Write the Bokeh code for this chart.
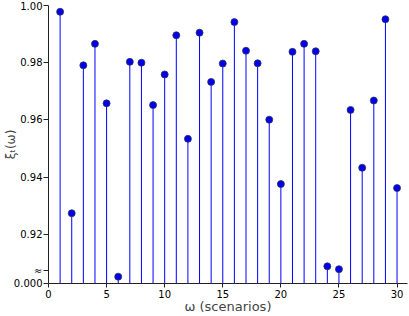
from bokeh.plotting import figure
from bokeh.models import FixedTicker, Range1d, ColumnDataSource
from bokeh.embed import file_html
from bokeh.resources import INLINE

# ---- data ----
scenarios = list(range(1, 31))
xi_values = [0.9978, 0.9274, 0.9791, 0.9866, 0.9658, 0.0024, 0.9803, 0.9800, 0.9652, 0.9759,
             0.9896, 0.9534, 0.9905, 0.9733, 0.9797, 0.9942, 0.9842, 0.9798, 0.9601, 0.9376,
             0.9838, 0.9866, 0.9840, 0.0060, 0.0050, 0.9635, 0.9433, 0.9668, 0.9952, 0.9362]
x_ticks = [0, 5, 10, 15, 20, 25, 30]
y_ticks = [0.92, 0.94, 0.96, 0.98, 1.00]
y_tick_labels = ["0.92", "0.94", "0.96", "0.98", "1.00"]
zero_tick_label = "0.000"
break_mark = "≈"
x_label = "ω (scenarios)"
y_label = "ξₜ(ω)"

# broken axis: values near zero are drawn just above the break base
BREAK_BASE = 0.90285
BREAK_MARK_POS = BREAK_BASE + 0.0045
shown = [v if v >= 0.5 else BREAK_BASE + v for v in xi_values]

src = ColumnDataSource(dict(x=scenarios, y=shown, base=[BREAK_BASE] * len(scenarios)))

p = figure(width=409, height=316, output_backend="svg", toolbar_location=None,
           x_range=Range1d(0, 30.9), y_range=Range1d(BREAK_BASE, 1.0),
           min_border_left=47, min_border_right=2, min_border_top=5, min_border_bottom=31)
p.outline_line_color = None
p.xgrid.visible = False
p.ygrid.visible = False
p.background_fill_color = "white"

p.segment(x0="x", y0="base", x1="x", y1="y", source=src, line_color="#0000ff", line_width=1)
p.scatter(x="x", y="y", source=src, size=7, fill_color="#0000ee", line_color="#333355", line_width=0.8)

xa = p.xaxis[0]
xa.ticker = FixedTicker(ticks=x_ticks)
xa.major_label_text_font = "DejaVu Sans"
xa.major_label_text_font_size = "10px"
xa.major_label_text_color = "black"
xa.major_tick_out = 4
xa.major_tick_in = 0
xa.minor_tick_out = 0
xa.minor_tick_in = 0
xa.major_label_standoff = 2
xa.axis_label = x_label
xa.axis_label_text_font = "DejaVu Sans"
xa.axis_label_text_font_style = "normal"
xa.axis_label_text_font_size = "13px"
xa.axis_label_standoff = -2
xa.axis_line_color = "#222222"
xa.major_tick_line_color = "#222222"

ya = p.yaxis[0]
ya.ticker = FixedTicker(ticks=[BREAK_BASE, BREAK_MARK_POS] + y_ticks)
overrides = {BREAK_BASE: zero_tick_label, BREAK_MARK_POS: break_mark}
for t, lab in zip(y_ticks, y_tick_labels):
    overrides[t] = lab
ya.major_label_overrides = overrides
ya.major_label_text_font = "DejaVu Sans"
ya.major_label_text_font_size = "10px"
ya.major_label_text_color = "black"
ya.major_tick_out = 5
ya.major_tick_in = 0
ya.minor_tick_out = 0
ya.minor_tick_in = 0
ya.major_label_standoff = 1
ya.axis_label = y_label
ya.axis_label_text_font = "DejaVu Sans"
ya.axis_label_text_font_style = "normal"
ya.axis_label_text_font_size = "12px"
ya.axis_label_standoff = -7
ya.axis_line_color = "#222222"
ya.major_tick_line_color = "#222222"

open("out.html", "w").write(file_html(p, INLINE))
